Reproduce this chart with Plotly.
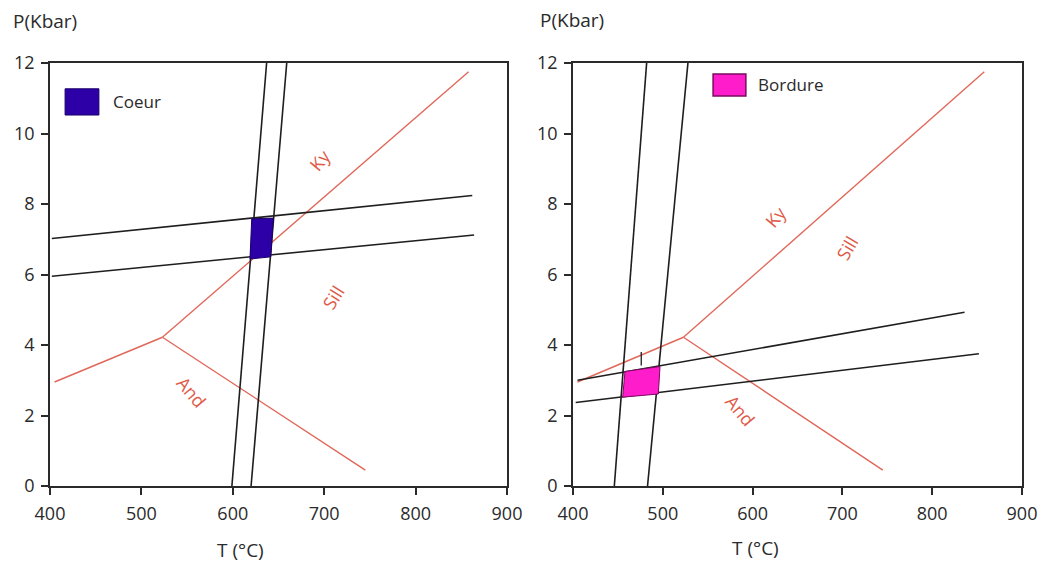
import plotly.graph_objects as go

# ---------------- data ----------------
# Aluminosilicate triple-point lines (same in both panels), T (°C), P (kbar)
ky_and_T = [405, 523]
ky_and_P = [2.95, 4.22]
ky_sill_T = [523, 858]
ky_sill_P = [4.22, 11.75]
and_sill_T = [523, 745]
and_sill_P = [4.22, 0.45]

# Left panel (Coeur) equilibrium lines
c_upper_T = [402, 862]
c_upper_P = [7.02, 8.24]
c_lower_T = [402, 864]
c_lower_P = [5.95, 7.12]
c_vleft_T = [599, 637]
c_vleft_P = [0, 12]
c_vright_T = [620, 659]
c_vright_P = [0, 12]
coeur_box_T = [620.7, 644.3, 641.5, 618.8]
coeur_box_P = [7.58, 7.60, 6.50, 6.44]

# Right panel (Bordure) equilibrium lines
b_upper_T = [405, 836]
b_upper_P = [3.0, 4.93]
b_lower_T = [403, 852]
b_lower_P = [2.37, 3.75]
b_vleft_T = [446, 482]
b_vleft_P = [0, 12]
b_vright_T = [483, 528]
b_vright_P = [0, 12]
bord_box_T = [457.9, 496.9, 495.0, 455.3]
bord_box_P = [3.25, 3.39, 2.61, 2.52]
b_tick_T = [476, 476]
b_tick_P = [3.42, 3.8]

# mineral labels: (text, T, P, angle)
left_labels = [("Ky", 695, 9.26, -50), ("Sill", 710, 5.37, -58), ("And", 555, 2.67, 50)]
right_labels = [("Ky", 625, 7.64, -50), ("Sill", 705, 6.76, -60), ("And", 586, 2.16, 50)]

x_ticks = [400, 500, 600, 700, 800, 900]
y_ticks = [0, 2, 4, 6, 8, 10, 12]

# ---------------- style ----------------
RED = "#e0685a"
RED_TXT = "#e05a48"
BLK = "#1e1e1e"
BLUE = "#2c00a6"
PINK = "#ff1ccb"
FONT = "Open Sans"
W, H = 1041, 556   # page body has an 8px margin
OFF = 8


def px(x):
    return (x - OFF) / W


def py(y):
    return 1 - (y - OFF) / H


fig = go.Figure()


def line(T, P, color, xa, ya, width=1.6):
    fig.add_trace(go.Scatter(x=T, y=P, mode="lines", line=dict(color=color, width=width),
                             xaxis=xa, yaxis=ya, showlegend=False, hoverinfo="skip"))


def poly(T, P, color, xa, ya, edge):
    fig.add_trace(go.Scatter(x=T + [T[0]], y=P + [P[0]], mode="lines", fill="toself",
                             fillcolor=color, line=dict(color=edge, width=1),
                             xaxis=xa, yaxis=ya, showlegend=False, hoverinfo="skip"))


# left panel
for T, P in [(ky_and_T, ky_and_P), (ky_sill_T, ky_sill_P), (and_sill_T, and_sill_P)]:
    line(T, P, RED, "x", "y", width=1.4)
for T, P in [(c_upper_T, c_upper_P), (c_lower_T, c_lower_P), (c_vleft_T, c_vleft_P), (c_vright_T, c_vright_P)]:
    line(T, P, BLK, "x", "y")
poly(coeur_box_T, coeur_box_P, BLUE, "x", "y", "#1a006a")

# right panel
for T, P in [(ky_and_T, ky_and_P), (ky_sill_T, ky_sill_P), (and_sill_T, and_sill_P)]:
    line(T, P, RED, "x2", "y2", width=1.4)
for T, P in [(b_upper_T, b_upper_P), (b_lower_T, b_lower_P), (b_vleft_T, b_vleft_P), (b_vright_T, b_vright_P)]:
    line(T, P, BLK, "x2", "y2")
poly(bord_box_T, bord_box_P, PINK, "x2", "y2", "#7a0a60")
line(b_tick_T, b_tick_P, BLK, "x2", "y2", width=1.3)

axis_common = dict(
    showgrid=False, zeroline=False, showline=True, linecolor="#2a2a2a", linewidth=1.8,
    mirror=True, ticks="outside", ticklen=7, tickwidth=1.5, tickcolor="#2a2a2a",
    automargin=False, ticklabelstandoff=3,
    tickfont=dict(family=FONT, size=18, color="#2a2a2a"), fixedrange=True,
)

fig.update_layout(
    width=W, height=H,
    margin=dict(l=0, r=0, t=0, b=0, autoexpand=False),
    paper_bgcolor="white", plot_bgcolor="white",
    showlegend=False,
    xaxis=dict(domain=[px(50), px(507)], range=[400, 900], tickvals=x_ticks, anchor="y", **axis_common),
    yaxis=dict(domain=[py(486), py(63)], range=[0, 12], tickvals=y_ticks, anchor="x", **axis_common),
    xaxis2=dict(domain=[px(573), px(1022)], range=[400, 900], tickvals=x_ticks, anchor="y2", **axis_common),
    yaxis2=dict(domain=[py(486), py(63)], range=[0, 12], tickvals=y_ticks, anchor="x2", **axis_common),
)

ann = []
for txt, T, P, ang in left_labels:
    ann.append(dict(x=T, y=P, xref="x", yref="y", text=txt, textangle=ang, showarrow=False,
                    font=dict(family=FONT, size=18, color=RED_TXT)))
for txt, T, P, ang in right_labels:
    ann.append(dict(x=T, y=P, xref="x2", yref="y2", text=txt, textangle=ang, showarrow=False,
                    font=dict(family=FONT, size=18, color=RED_TXT)))

# axis titles
title_font = dict(family=FONT, size=19, color="#2a2a2a")
ann += [
    dict(x=px(11), y=py(21), xref="paper", yref="paper", text="P(Kbar)", showarrow=False,
         xanchor="left", yanchor="middle", font=title_font),
    dict(x=px(538), y=py(20), xref="paper", yref="paper", text="P(Kbar)", showarrow=False,
         xanchor="left", yanchor="middle", font=title_font),
    dict(x=px(240), y=py(550), xref="paper", yref="paper", text="T (°C)", showarrow=False,
         xanchor="center", yanchor="middle", font=title_font),
    dict(x=px(755), y=py(548), xref="paper", yref="paper", text="T (°C)", showarrow=False,
         xanchor="center", yanchor="middle", font=title_font),
]

# legends
leg_font = dict(family=FONT, size=17, color="#2a2a2a")
ann += [
    dict(x=0.134, y=0.908, xref="x domain", yref="y domain", text="Coeur", showarrow=False,
         xanchor="left", yanchor="middle", font=leg_font),
    dict(x=0.408, y=0.948, xref="x2 domain", yref="y2 domain", text="Bordure", showarrow=False,
         xanchor="left", yanchor="middle", font=leg_font),
]
fig.update_layout(annotations=ann)

fig.update_layout(shapes=[
    dict(type="rect", xref="x domain", yref="y domain", x0=0.033, x1=0.107, y0=0.877, y1=0.939,
         fillcolor=BLUE, line=dict(color="#1a006a", width=1)),
    dict(type="rect", xref="x2 domain", yref="y2 domain", x0=0.312, x1=0.385, y0=0.922, y1=0.974,
         fillcolor=PINK, line=dict(color="#7a0a60", width=1.5)),
])

fig.write_html("out.html")
